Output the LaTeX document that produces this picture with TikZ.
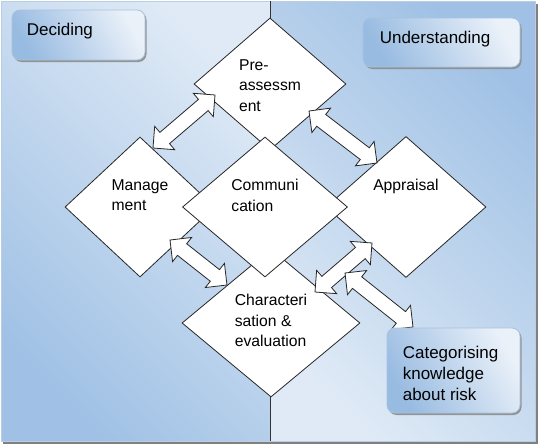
\documentclass[tikz,border=0pt]{standalone}
\usepackage{fontspec}
\setmainfont{Liberation Sans}
\usetikzlibrary{shapes.geometric,shapes.arrows,shadows,positioning}
\definecolor{PanelDark}{HTML}{A0C1E5}
\definecolor{PanelLight}{HTML}{DFEAF6}
\definecolor{PanelEdge}{HTML}{B9CDE3}
\definecolor{BoxDark}{HTML}{98BBE1}
\definecolor{BoxLight}{HTML}{EAF1F9}
\definecolor{BoxEdge}{HTML}{A9C2DD}
\tikzstyle{leftPanel}=[draw=PanelEdge, line width=1pt, bottom color=PanelDark, top color=PanelLight, shading angle=-45, drop shadow={shadow xshift=2pt, shadow yshift=-2.5pt, fill=black!50, opacity=1}]
\tikzstyle{rightPanel}=[draw=PanelEdge, line width=1pt, bottom color=PanelLight, top color=PanelDark, shading angle=-45, drop shadow={shadow xshift=2pt, shadow yshift=-2.5pt, fill=black!50, opacity=1}]
\tikzstyle{divider}=[draw=black!80, line width=0.8pt]
\tikzstyle{stageNode}=[diamond, draw=black!85, fill=white, line width=0.8pt, inner sep=0pt]
\tikzstyle{stageText}=[align=left, inner sep=0pt, anchor=north, font=\fontsize{15.7}{20.5}\selectfont]
\tikzstyle{labelBox}=[draw=BoxEdge, line width=0.8pt, rounded corners=8pt, bottom color=BoxDark, top color=BoxLight, shading angle=-60, drop shadow={shadow xshift=1.5pt, shadow yshift=-2pt, fill=black!45, opacity=0.9}]
\tikzstyle{boxText}=[align=left, inner sep=0pt, font=\fontsize{17}{21}\selectfont]
\tikzstyle{twoWay}=[double arrow, draw=black!85, fill=white, line width=0.8pt, inner xsep=0pt, inner ysep=0pt, text height=14pt, text depth=0pt, double arrow head extend=8pt, midway, sloped]

\begin{document}
\begin{tikzpicture}[x=1pt, y=-1pt]
    \useasboundingbox (0,0) rectangle (539,447);

    % Background panels
    \path[leftPanel] (1,1) rectangle (270,441);
    \path[rightPanel] (270,1) rectangle (535.5,441);
    \coordinate (divTop) at (270,1);
    \coordinate (divBot) at (270,441);
    \draw[divider] (divTop) -- (divBot);

    % Stages
    \node[stageNode, minimum width=152pt, minimum height=132pt] (pre) at (270,84) {};
    \node[stageNode, minimum width=150pt, minimum height=140pt] (manage) at (140,207) {};
    \node[stageNode, minimum width=160pt, minimum height=141pt] (appr) at (406,207) {};
    \node[stageNode, minimum width=178pt, minimum height=148pt] (charact) at (271,323) {};
    \node[stageNode, minimum width=165pt, minimum height=140pt] (comm) at (265,207) {};

    \node[stageText] (preText) at ([yshift=25pt]pre.center) {Pre-\\assessm\\ent};
    \node[stageText] (manageText) at ([yshift=28pt]manage.center) {Manage\\ment};
    \node[stageText] (apprText) at ([yshift=28pt]appr.center) {Appraisal};
    \node[stageText] (charactText) at ([yshift=29pt]charact.center) {Characteri\\sation \&\\evaluation};
    \node[stageText] (commText) at ([yshift=28pt]comm.center) {Communi\\cation};

    % Links
    \coordinate (manageA) at (153,148);
    \coordinate (preA) at (215,95);
    \coordinate (preB) at (309,111);
    \coordinate (apprA) at (377,163);
    \coordinate (manageB) at (170,240);
    \coordinate (charactA) at (227,285);
    \coordinate (charactB) at (315,292);
    \coordinate (apprB) at (372,243);
    \coordinate (charactC) at (345,273);
    \coordinate (knowA) at (413,327);
    \path (manageA) -- (preA) node[twoWay, minimum height=81.6pt] {};
    \path (preB) -- (apprA) node[twoWay, minimum height=85.6pt] {};
    \path (manageB) -- (charactA) node[twoWay, minimum height=72.6pt] {};
    \path (charactB) -- (apprB) node[twoWay, minimum height=75.2pt] {};
    \path (charactC) -- (knowA) node[twoWay, minimum height=86.8pt] {};

    % Labels
    \node[labelBox, minimum width=133pt, minimum height=50pt] (decide) at (78.5,35) {};
    \node[labelBox, minimum width=157pt, minimum height=49pt] (underst) at (441.5,42.5) {};
    \node[labelBox, minimum width=133pt, minimum height=85pt] (know) at (453.5,370.5) {};
    \node[boxText, below right=13pt and 15pt of decide.north west] (decideText) {Deciding};
    \node[boxText, below right=13pt and 17pt of underst.north west] (understText) {Understanding};
    \node[boxText, below right=18pt and 16pt of know.north west] (knowText) {Categorising\\knowledge\\about risk};
\end{tikzpicture}
\end{document}
